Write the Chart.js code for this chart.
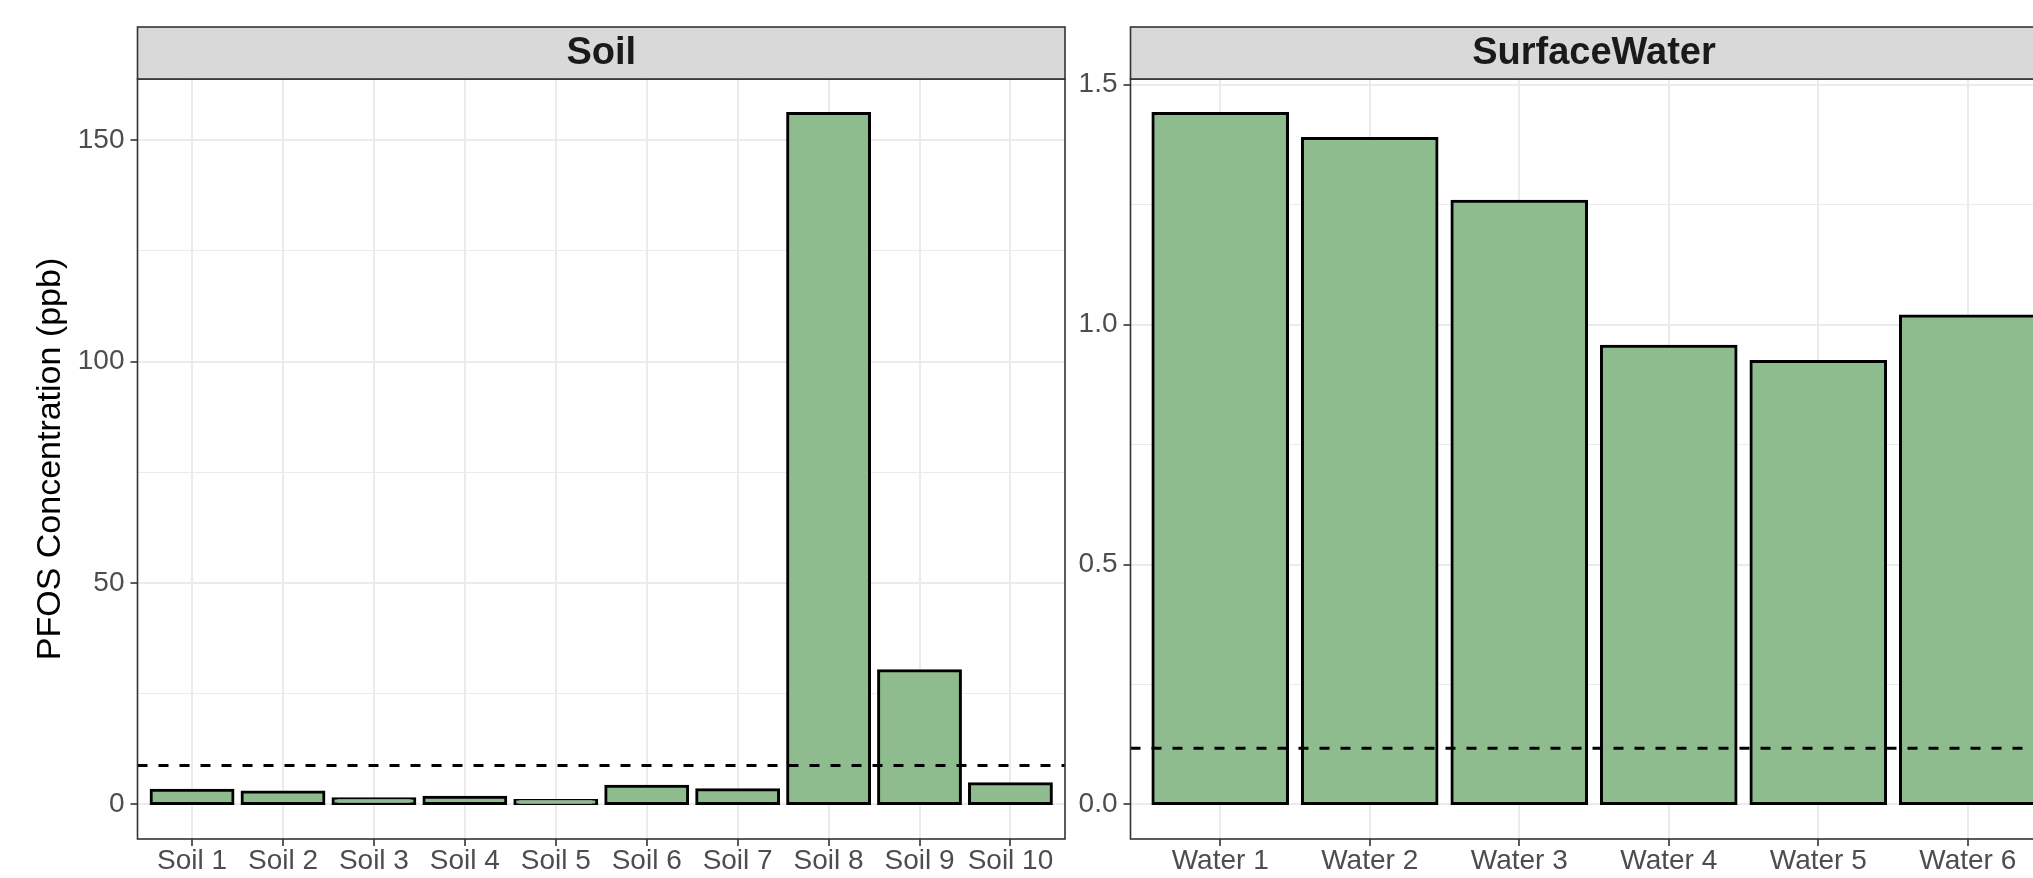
<!DOCTYPE html>
<html>
<head>
<meta charset="utf-8">
<title>PFOS Concentration by Sample</title>
<script src="https://cdn.jsdelivr.net/npm/chart.js@4.4.1/dist/chart.umd.min.js"></script>
<style>
  html, body { margin: 0; padding: 0; background: #ffffff; overflow: hidden; }
  #wrap { position: relative; width: 2060px; height: 878px; }
  #wrap canvas { position: absolute; top: 0; }
</style>
</head>
<body>
<div id="wrap">
  <canvas id="soilChart" width="1067" height="878" style="left:0px"></canvas>
  <canvas id="waterChart" width="993" height="878" style="left:1067px"></canvas>
</div>
<script>
// ---- Soil samples ----
const soilSites = ['Soil 1', 'Soil 2', 'Soil 3', 'Soil 4', 'Soil 5', 'Soil 6', 'Soil 7', 'Soil 8', 'Soil 9', 'Soil 10'];
const soilPFOS = [3.2, 2.8, 1.3, 1.6, 0.9, 4.1, 3.3, 156.0, 30.2, 4.7];
const soilLimit = 8.8;
const soilTicks = [0, 50, 100, 150];
const soilTickLabels = ['0', '50', '100', '150'];
const soilMinorTicks = [25, 75, 125];

// ---- Surface water samples ----
const waterSites = ['Water 1', 'Water 2', 'Water 3', 'Water 4', 'Water 5', 'Water 6'];
const waterPFOS = [1.44, 1.388, 1.257, 0.955, 0.923, 1.018];
const waterLimit = 0.117;
const waterTicks = [0.0, 0.5, 1.0, 1.5];
const waterTickLabels = ['0.0', '0.5', '1.0', '1.5'];
const waterMinorTicks = [0.25, 0.75, 1.25];

const FONT = "'Liberation Sans', Arial, Helvetica, sans-serif";
const BAR_STROKE = 3;
Chart.defaults.font.family = FONT;

// Facet strip on top of each panel plus the panel border drawn over the data.
const facetPanel = {
  id: 'facetPanel',
  afterDatasetsDraw(chart) {
    const { ctx, chartArea: a } = chart;
    ctx.save();
    ctx.strokeStyle = '#333333';
    ctx.lineWidth = 1.6;
    ctx.strokeRect(a.left, a.top, a.right - a.left, a.bottom - a.top);
    ctx.restore();
  },
  afterDraw(chart, args, opts) {
    const { ctx, chartArea: a } = chart;
    const stripTop = 27;
    ctx.save();
    ctx.fillStyle = '#D9D9D9';
    ctx.fillRect(a.left, stripTop, a.right - a.left, a.top - stripTop);
    ctx.strokeStyle = '#333333';
    ctx.lineWidth = 1.6;
    ctx.strokeRect(a.left, stripTop, a.right - a.left, a.top - stripTop);
    ctx.fillStyle = '#1A1A1A';
    ctx.font = 'bold 38px ' + FONT;
    ctx.textAlign = 'center';
    ctx.textBaseline = 'middle';
    ctx.fillText(opts.title, (a.left + a.right) / 2, (stripTop + a.top) / 2 + 1);
    ctx.restore();
  }
};

function facetChart(canvasId, cfg) {
  const { title, sites, values, limit, majors, majorLabels, minors, axisWidth, padRight, yTitle } = cfg;
  // 5% expansion on the value axis, 0.6 category units on the discrete axis
  const top = Math.max(...values, limit);
  const yMin = -0.05 * top;
  const yMax = top * 1.05;
  const xMin = -0.6;
  const xMax = sites.length - 1 + 0.6;
  const yTickValues = [...majors, ...minors].sort((p, q) => p - q);
  const labelFor = new Map(majors.map((v, i) => [v, majorLabels[i]]));
  const isMajor = ctx => ctx.tick && labelFor.has(ctx.tick.value);

  return new Chart(document.getElementById(canvasId), {
    type: 'bar',
    data: {
      datasets: [
        {
          type: 'line',
          data: [{ x: xMin, y: limit }, { x: xMax, y: limit }],
          borderColor: '#000000',
          borderWidth: 3,
          borderDash: [10, 11],
          pointRadius: 0,
          fill: false,
          order: 0
        },
        {
          type: 'bar',
          data: values.map((v, i) => ({ x: i, y: v })),
          backgroundColor: '#8FBC8F',
          borderColor: '#000000',
          borderWidth: BAR_STROKE,
          borderSkipped: false,
          // stroke centred on the bar outline
          inflateAmount: BAR_STROKE / 2,
          barPercentage: 0.9,
          categoryPercentage: 1.0,
          order: 1
        }
      ]
    },
    options: {
      responsive: false,
      animation: false,
      devicePixelRatio: 1,
      events: [],
      layout: { padding: { top: 79, right: padRight, bottom: 0, left: 0 } },
      plugins: {
        legend: { display: false },
        tooltip: { enabled: false },
        facetPanel: { title }
      },
      scales: {
        x: {
          type: 'linear',
          min: xMin,
          max: xMax,
          offset: false,
          bounds: 'data',
          afterBuildTicks: s => { s.ticks = sites.map((_, i) => ({ value: i })); },
          afterFit: s => { s.height = 39; },
          ticks: {
            autoSkip: false,
            maxRotation: 0,
            padding: -2,
            color: '#4D4D4D',
            font: { size: 28 },
            callback: v => sites[v]
          },
          grid: {
            offset: false,
            color: '#EBEBEB',
            lineWidth: 2,
            tickColor: '#333333',
            tickLength: 7,
            tickWidth: 1.6
          },
          border: { display: false }
        },
        y: {
          type: 'linear',
          min: yMin,
          max: yMax,
          bounds: 'data',
          afterBuildTicks: s => { s.ticks = yTickValues.map(v => ({ value: v })); },
          afterFit: s => { s.width = axisWidth; },
          ticks: {
            autoSkip: false,
            padding: 6,
            color: '#4D4D4D',
            font: { size: 28 },
            callback: v => (labelFor.has(v) ? labelFor.get(v) : '')
          },
          grid: {
            color: '#EBEBEB',
            lineWidth: ctx => (isMajor(ctx) ? 2 : 1.1),
            tickColor: ctx => (isMajor(ctx) ? '#333333' : 'rgba(0,0,0,0)'),
            tickLength: 7,
            tickWidth: 1.6
          },
          border: { display: false },
          title: yTitle
            ? { display: true, text: yTitle, color: '#000000', font: { size: 34 }, padding: { top: 30, bottom: 0 } }
            : { display: false }
        }
      }
    },
    plugins: [facetPanel]
  });
}

facetChart('soilChart', {
  title: 'Soil',
  sites: soilSites,
  values: soilPFOS,
  limit: soilLimit,
  majors: soilTicks,
  majorLabels: soilTickLabels,
  minors: soilMinorTicks,
  axisWidth: 137.5,
  padRight: 2,
  yTitle: 'PFOS Concentration (ppb)'
});

facetChart('waterChart', {
  title: 'SurfaceWater',
  sites: waterSites,
  values: waterPFOS,
  limit: waterLimit,
  majors: waterTicks,
  majorLabels: waterTickLabels,
  minors: waterMinorTicks,
  axisWidth: 63.5,
  padRight: 2.5,
  yTitle: null
});
</script>
</body>
</html>
